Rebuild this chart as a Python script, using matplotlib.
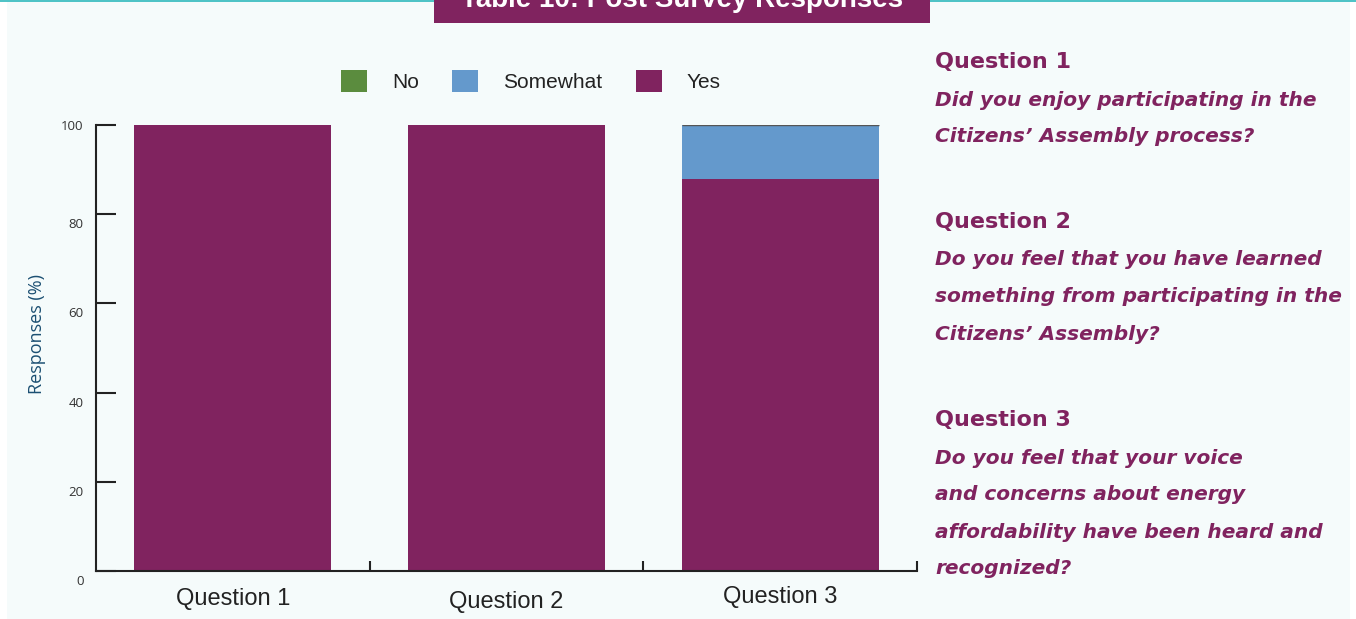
import matplotlib
matplotlib.use("Agg")
from matplotlib import pyplot as plt
from matplotlib import transforms
from matplotlib.patches import Rectangle
import numpy as np

# survey results, percent of responses per question
questions = ["Question 1", "Question 2", "Question 3"]
yes = [100, 100, 88]
somewhat = [0, 0, 12]
no = [0, 0, 0]

q_heads = ["Question 1", "Question 2", "Question 3"]
q_texts = [
    ["Did you enjoy participating in the",
     "Citizens\u2019 Assembly process?"],
    ["Do you feel that you have learned",
     "something from participating in the",
     "Citizens\u2019 Assembly?"],
    ["Do you feel that your voice",
     "and concerns about energy",
     "affordability have been heard and",
     "recognized?"],
]

purple = "#80235f"
blue = "#6499cc"
green = "#5b8c3e"
panel = "#f5fbfb"

W, H = 1356, 619
fig = plt.figure(figsize=(W / 100, H / 100), dpi=100)
fig.patch.set_facecolor("white")


def px(dx, dy):
    return transforms.ScaledTranslation(dx / 100, dy / 100, fig.dpi_scale_trans)


# page panel, teal rule and title tab
fig.add_artist(Rectangle((7 / W, 0), (1350 - 7) / W, 1, transform=fig.transFigure,
                         facecolor=panel, edgecolor="none", zorder=0))
fig.add_artist(Rectangle((0, 1 - 1.5 / H), 1, 1.5 / H, transform=fig.transFigure,
                         facecolor="#4fc3c6", edgecolor="none", zorder=1))
fig.add_artist(Rectangle((434 / W, 1 - 23 / H), (930 - 434) / W, 23 / H,
                         transform=fig.transFigure, facecolor=purple,
                         edgecolor="none", zorder=2))
fig.text(682 / W, 1 - 7 / H, "Table 10: Post Survey Responses", color="white",
         fontsize=20, fontweight="bold", family="Liberation Sans",
         ha="center", va="baseline", zorder=3)

ax = fig.add_axes([96 / W, 1 - 571 / H, (917 - 96) / W, (571 - 125) / H])
ax.set_facecolor("none")

x = np.arange(len(questions))
bw = 0.72
ax.bar(x, yes, bw, color=purple, label="Yes", zorder=2)
ax.bar(x, somewhat, bw, bottom=yes, color=blue, label="Somewhat", zorder=2)
tops = np.array(yes) + np.array(somewhat)
ax.bar(x, no, bw, bottom=tops, color=green, label="No", zorder=3,
       edgecolor=["none", "none", "#555555"], linewidth=1)

ax.set_xlim(-0.5, 2.5)
ax.set_ylim(0, 100)
ax.set_yticks([0, 20, 40, 60, 80, 100])
ax.set_xticks(x)
ax.set_xticklabels(questions)
ax.set_xticks([0.5, 1.5, 2.5], minor=True)

for s in ["top", "right"]:
    ax.spines[s].set_visible(False)
for s in ["left", "bottom"]:
    ax.spines[s].set_linewidth(1.5)
    ax.spines[s].set_color("#222222")

ax.tick_params(axis="y", direction="in", length=14.5, width=1.5, color="#222222",
               labelsize=9.5, labelcolor="#333333", pad=9)
ax.tick_params(axis="x", which="major", length=0, pad=12, labelsize=17,
               labelcolor="#222222")
ax.tick_params(axis="x", which="minor", direction="in", length=7, width=1.5,
               color="#222222")
for lab in ax.get_yticklabels():
    lab.set_family("Open Sans")
for lab in ax.get_xticklabels():
    lab.set_family("Liberation Sans")

# nudge tick labels the way the layout has them
for lab in ax.get_yticklabels()[:-1]:
    lab.set_transform(lab.get_transform() + px(0, -9))
xl = ax.get_xticklabels()
xl[1].set_transform(xl[1].get_transform() + px(0, -3))
xl[2].set_transform(xl[2].get_transform() + px(0, 2))

ax.set_ylabel("Responses (%)", color="#1b4f72", fontsize=13, family="Open Sans")
ax.yaxis.set_label_coords(46 / W, 1 - 334 / H, transform=fig.transFigure)

handles, labels = ax.get_legend_handles_labels()
order = [2, 1, 0]
leg = fig.legend([handles[i] for i in order], [labels[i] for i in order],
                 loc="center", bbox_to_anchor=(531 / W, 1 - 81 / H), ncol=3,
                 frameon=False, handlelength=1.25, handleheight=1.25,
                 handletextpad=1.2, columnspacing=1.6,
                 prop={"family": "Liberation Sans", "size": 15})
for t in leg.get_texts():
    t.set_color("#222222")

# question wording on the right
heads_y = [62, 222, 420]
for head, lines, hy in zip(q_heads, q_texts, heads_y):
    fig.text(935 / W, 1 - hy / H, head, color=purple, fontsize=16,
             fontweight="bold", family="DejaVu Sans", ha="left", va="center")
    for i, line in enumerate(lines):
        fig.text(935 / W, 1 - (hy + 38 + 37 * i) / H, line, color=purple,
                 fontsize=14.5, style="oblique", fontweight="bold",
                 family="DejaVu Sans", ha="left", va="center")

fig.savefig("out.png", dpi=100, facecolor=fig.get_facecolor())
